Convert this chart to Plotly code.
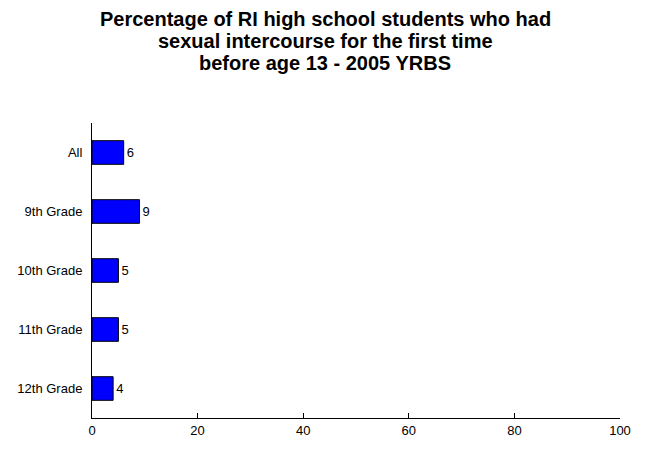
import plotly.graph_objects as go

categories = ["All", "9th Grade", "10th Grade", "11th Grade", "12th Grade"]
values = [6, 9, 5, 5, 4]
x_ticks = [0, 20, 40, 60, 80, 100]
title_lines = [
    "Percentage of RI high school students who had",
    "sexual intercourse for the first time",
    "before age 13 - 2005 YRBS",
]

FONT = "Liberation Sans, Arial, sans-serif"

fig = go.Figure(go.Bar(
    x=values, y=categories, orientation="h",
    marker=dict(color="#0000FF", line=dict(color="#000000", width=1)),
    width=0.4,
    text=[str(v) for v in values], textposition="outside",
    textfont=dict(family=FONT, size=13, color="#000"),
    cliponaxis=False,
))

# page offset of 8px (body margin); plot area spans x 92..620, y 123..418 on the page
plot_top, plot_bottom, plot_left, plot_right = 123, 418, 92, 620
title_centers_y = [19, 41, 63]
for line, yc in zip(title_lines, title_centers_y):
    fig.add_annotation(
        text=line, showarrow=False,
        xref="paper", yref="paper",
        x=(325 - plot_left) / (plot_right - plot_left),
        y=(plot_bottom - yc) / (plot_bottom - plot_top),
        xanchor="center", yanchor="middle",
        font=dict(family=FONT, size=20, color="#000", weight="bold"),
    )

fig.update_layout(
    width=638, height=445,
    margin=dict(l=84, r=26, t=115, b=35),
    paper_bgcolor="white", plot_bgcolor="white",
    font=dict(family=FONT, size=13, color="#000"),
    showlegend=False,
    bargap=0.6,
)
fig.update_xaxes(
    range=[0, 100], tickvals=x_ticks, showgrid=False, zeroline=False,
    showline=True, linecolor="#000", linewidth=1,
    ticks="inside", ticklen=5, tickcolor="#000", fixedrange=True,
    tickfont=dict(size=13), automargin=False,
)
fig.update_yaxes(
    categoryorder="array", categoryarray=categories[::-1],
    showgrid=False, zeroline=False, showline=True, linecolor="#000", linewidth=1,
    ticks="", ticklabelstandoff=6, tickfont=dict(size=13), fixedrange=True,
    automargin=False,
)

fig.write_html("out.html")
